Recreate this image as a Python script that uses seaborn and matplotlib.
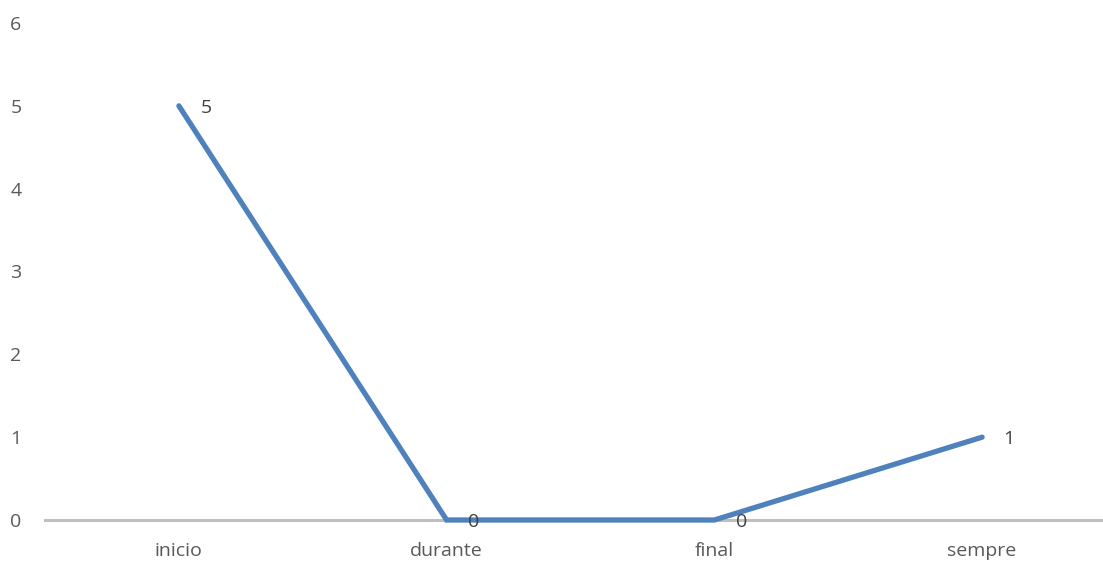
import matplotlib
matplotlib.use("Agg")
import matplotlib.pyplot as plt
import seaborn as sns
import pandas as pd

categories = ["inicio", "durante", "final", "sempre"]
values = [5, 0, 0, 1]
y_ticks = [0, 1, 2, 3, 4, 5, 6]

sns.set_theme(style="white")
plt.rcParams["font.family"] = ["Open Sans", "DejaVu Sans"]

df = pd.DataFrame({"cat": categories, "val": values, "x": range(len(categories))})

fig = plt.figure(figsize=(11.03, 5.62), dpi=100)
ax = fig.add_axes([45 / 1103, 42 / 562, 1071 / 1103, 497 / 562])

sns.lineplot(data=df, x="x", y="val", ax=ax, color="#4F81BD",
             linewidth=3.8, solid_capstyle="round", solid_joinstyle="miter",
             zorder=3, clip_on=False)

for xi, v in zip(df["x"], df["val"]):
    ax.annotate(str(v), (xi, v), xytext=(15.5, -1.5), textcoords="offset points",
                ha="left", va="center", fontsize=14, color="#404040", zorder=4)

ax.set_xlim(-0.5, 3.5)
ax.set_ylim(0, 6)
ax.set_xticks(range(len(categories)))
ax.set_xticklabels(categories)
ax.set_yticks(y_ticks)
ax.set_xlabel("")
ax.set_ylabel("")
ax.tick_params(axis="x", length=0, pad=15.5, labelsize=14, labelcolor="#595959")
ax.tick_params(axis="y", length=0, pad=25, labelsize=14, labelcolor="#595959")
for lbl in ax.get_yticklabels():
    lbl.set_horizontalalignment("left")

for s in ["top", "right", "left"]:
    ax.spines[s].set_visible(False)
ax.spines["bottom"].set_color("#BFBFBF")
ax.spines["bottom"].set_linewidth(2.2)
ax.spines["bottom"].set_zorder(1)
ax.grid(False)

fig.savefig("out.png", dpi=100)
